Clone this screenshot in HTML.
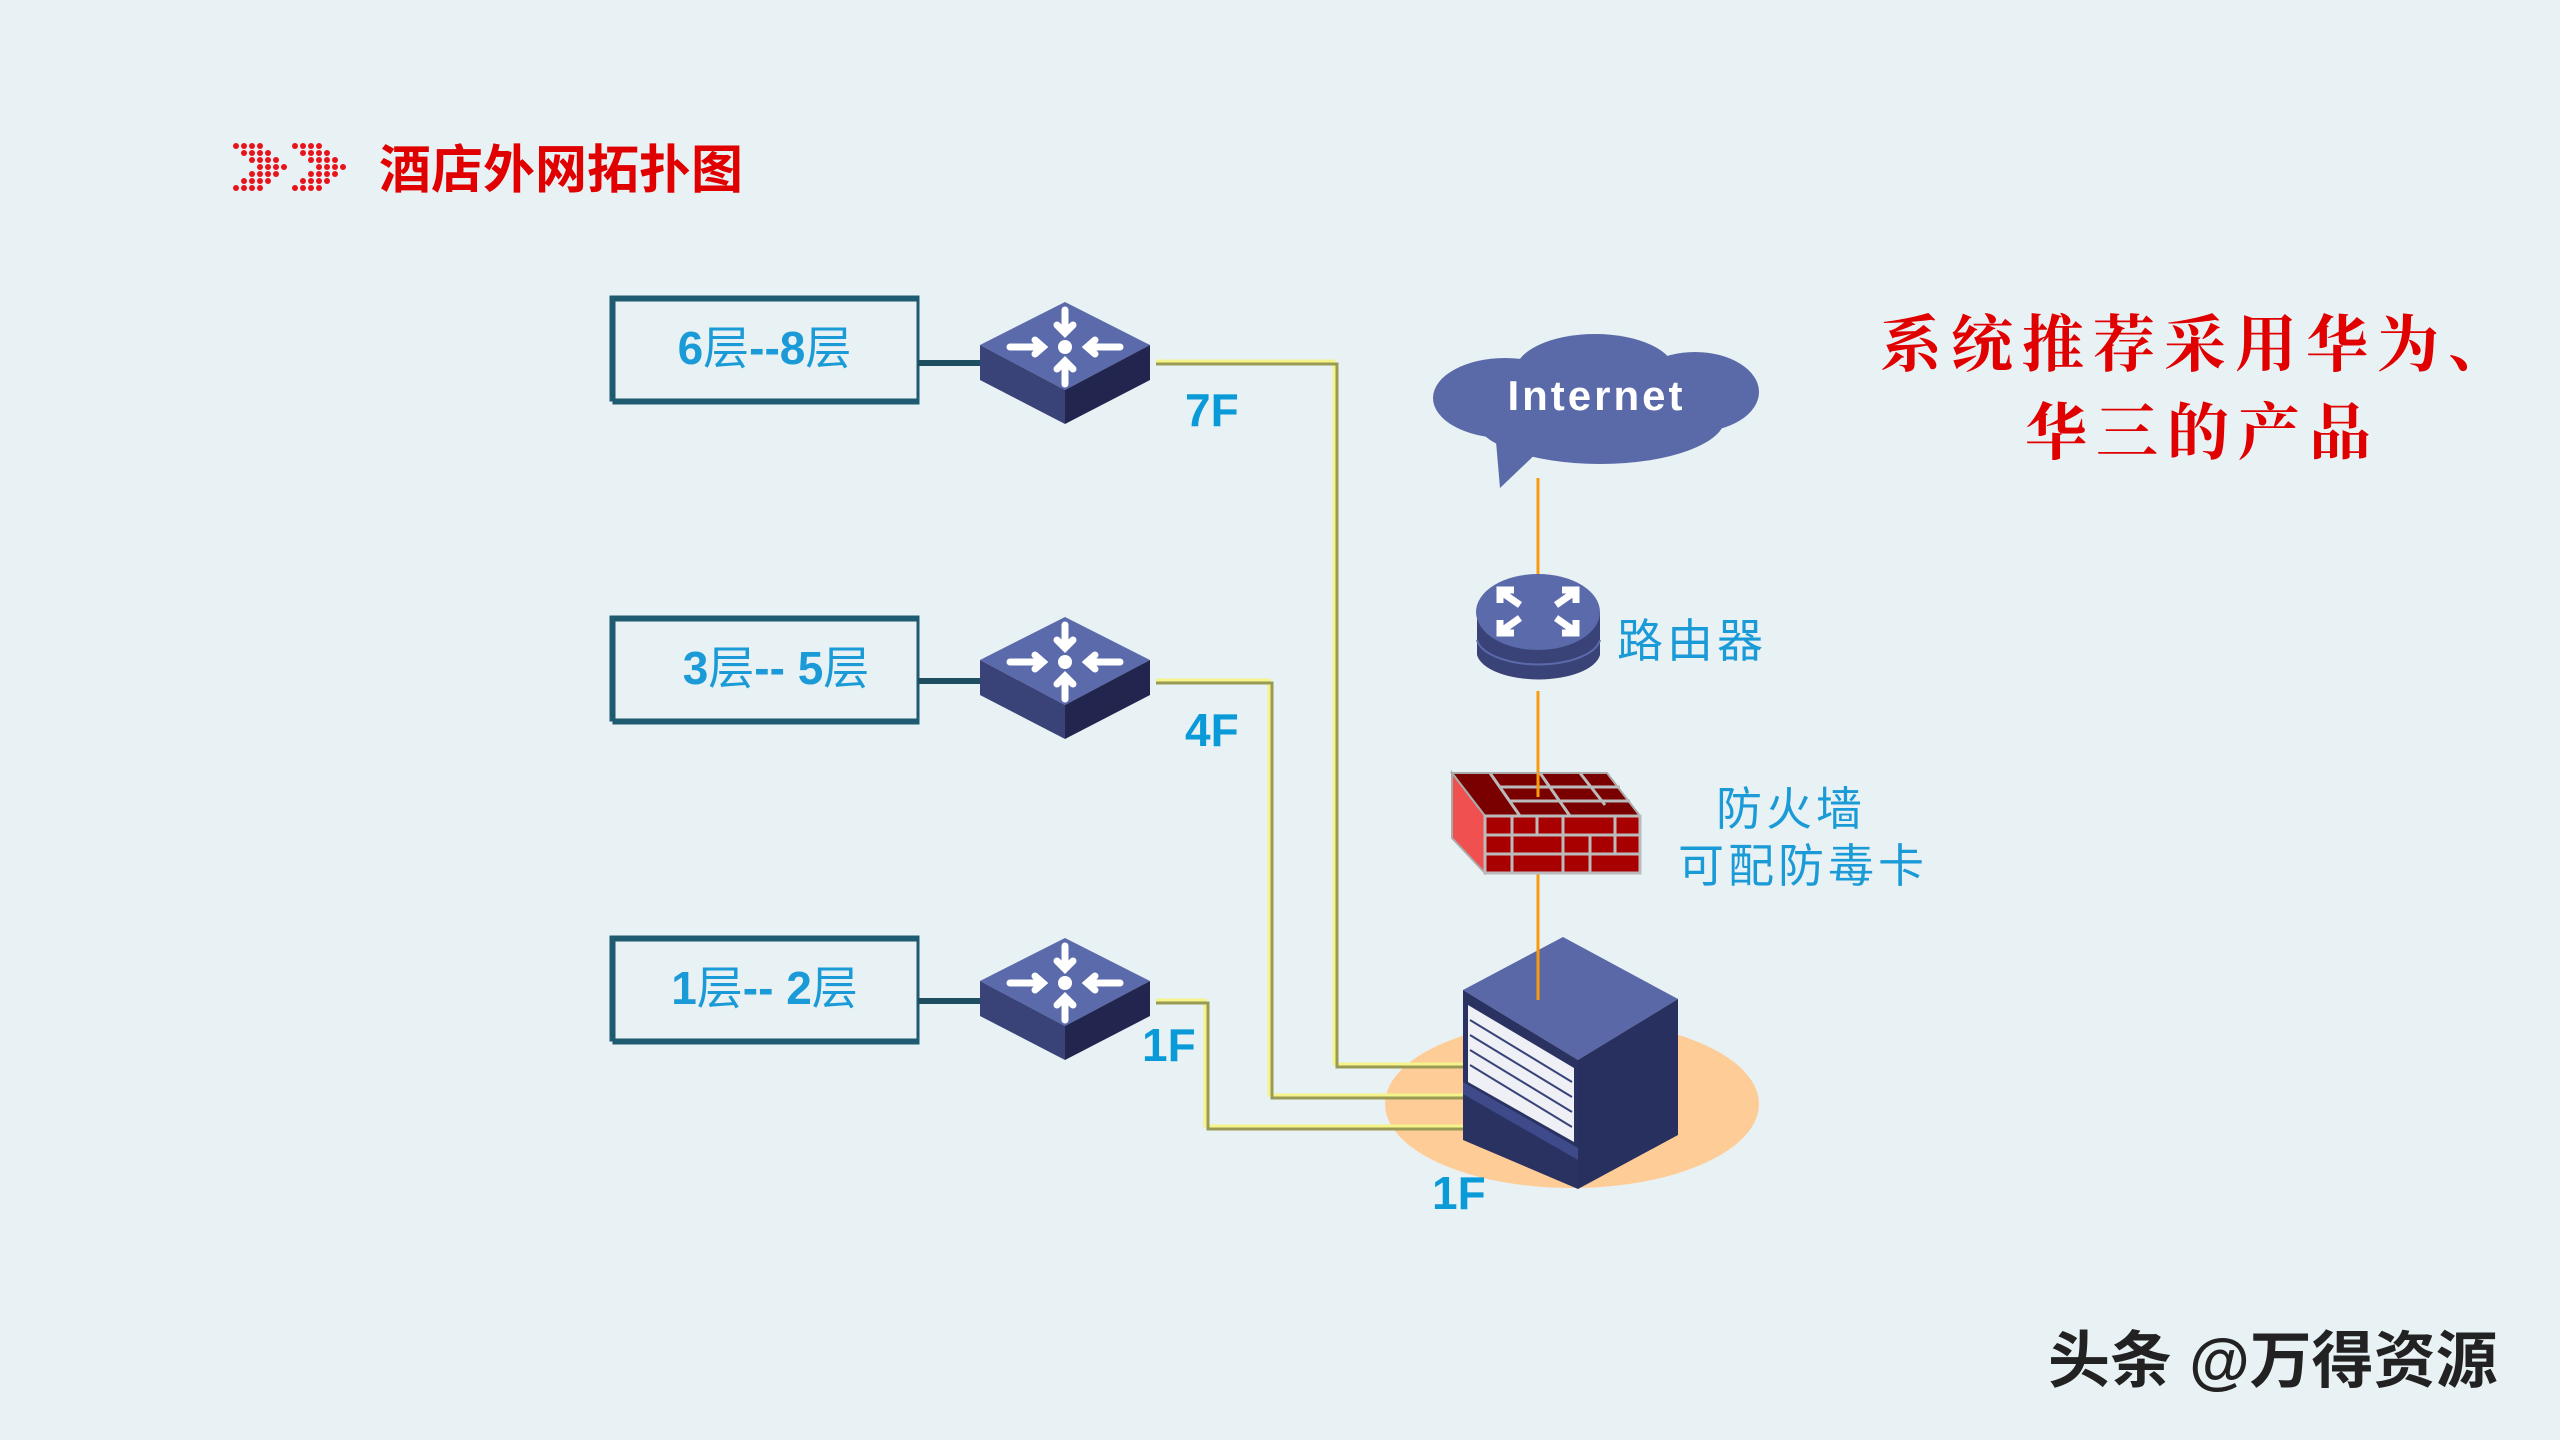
<!DOCTYPE html>
<html><head><meta charset="utf-8"><style>
html,body{margin:0;padding:0;}
body{width:2560px;height:1440px;background:#e8f1f4;position:relative;overflow:hidden;font-family:"Liberation Sans","Noto Sans CJK SC",sans-serif;}
.t{position:absolute;white-space:nowrap;}
</style></head><body>
<svg width="2560" height="1440" style="position:absolute;left:0;top:0">
<defs>
<g id="sw">
<polygon points="85,0 170,43 85,88 0,43" fill="#5a6aaa"/>
<polygon points="0,43 85,88 85,122 0,78" fill="#3a4378"/>
<polygon points="170,43 85,88 85,122 170,78" fill="#22264f"/>
<g stroke="#fff" stroke-width="7" fill="none" stroke-linecap="round">
<line x1="85" y1="8" x2="85" y2="30"/><polyline points="77,23 85,31 93,23"/>
<line x1="85" y1="82" x2="85" y2="60"/><polyline points="77,67 85,59 93,67"/>
<line x1="30" y1="45" x2="62" y2="45"/><polyline points="55,38 63,45 55,52"/>
<line x1="140" y1="45" x2="108" y2="45"/><polyline points="115,38 107,45 115,52"/>
</g>
<circle cx="85" cy="45" r="7" fill="#fff"/>
</g>
<g id="chev" fill="#e8141c">
<circle cx="0" cy="0" r="3"/><circle cx="8" cy="0" r="3"/><circle cx="16" cy="0" r="3"/><circle cx="24" cy="0" r="3"/>
<circle cx="8" cy="7" r="3"/><circle cx="16" cy="7" r="3"/><circle cx="24" cy="7" r="3"/><circle cx="32" cy="7" r="3"/>
<circle cx="16" cy="14" r="3"/><circle cx="24" cy="14" r="3"/><circle cx="32" cy="14" r="3"/><circle cx="40" cy="14" r="3"/>
<circle cx="24" cy="21" r="3"/><circle cx="32" cy="21" r="3"/><circle cx="40" cy="21" r="3"/><circle cx="48" cy="21" r="3"/>
<circle cx="16" cy="28" r="3"/><circle cx="24" cy="28" r="3"/><circle cx="32" cy="28" r="3"/><circle cx="40" cy="28" r="3"/>
<circle cx="8" cy="35" r="3"/><circle cx="16" cy="35" r="3"/><circle cx="24" cy="35" r="3"/><circle cx="32" cy="35" r="3"/>
<circle cx="0" cy="42" r="3"/><circle cx="8" cy="42" r="3"/><circle cx="16" cy="42" r="3"/><circle cx="24" cy="42" r="3"/>
</g>
</defs>
<use href="#chev" x="236" y="146"/>
<use href="#chev" x="295" y="146"/>
<!-- boxes -->
<g fill="none" stroke="#1e5a70" stroke-width="3">
<rect x="611" y="297" width="307" height="103"/><rect x="614" y="300" width="304" height="103"/>
<rect x="611" y="617" width="307" height="103"/><rect x="614" y="620" width="304" height="103"/>
<rect x="611" y="937" width="307" height="103"/><rect x="614" y="940" width="304" height="103"/>
</g>
<g stroke="#1e4f60" stroke-width="6">
<line x1="918" y1="363" x2="982" y2="363"/>
<line x1="918" y1="681" x2="982" y2="681"/>
<line x1="918" y1="1001" x2="982" y2="1001"/>
</g>
<ellipse cx="1572" cy="1104" rx="187" ry="84" fill="#fecd97"/>
<g fill="none" stroke-width="3">
<path d="M1156 361 H1334 V1064 H1465" stroke="#f4f48a"/>
<path d="M1156 364 H1337 V1067 H1465" stroke="#9a9a55"/>
<path d="M1156 680 H1269 V1095 H1478" stroke="#f4f48a"/>
<path d="M1156 683 H1272 V1098 H1482" stroke="#9a9a55"/>
<path d="M1156 1000 H1205 V1126 H1525" stroke="#f4f48a"/>
<path d="M1156 1003 H1208 V1129 H1528" stroke="#9a9a55"/>
</g>
<use href="#sw" x="980" y="302"/>
<use href="#sw" x="980" y="617"/>
<use href="#sw" x="980" y="938"/>
<!-- chassis -->
<polygon points="1463,990 1563,937 1678,999 1578,1060" fill="#5a68a8"/>
<polygon points="1678,999 1578,1060 1578,1189 1678,1135" fill="#283060"/>
<polygon points="1463,990 1578,1060 1578,1189 1463,1140" fill="#2a3262"/>
<polygon points="1468,1005 1574,1068 1574,1142 1468,1082" fill="#eef0f6"/>
<g stroke="#3a4378" stroke-width="2">
<line x1="1470" y1="1020" x2="1572" y2="1082"/><line x1="1470" y1="1035" x2="1572" y2="1097"/>
<line x1="1470" y1="1050" x2="1572" y2="1112"/><line x1="1470" y1="1065" x2="1572" y2="1127"/>
</g>
<polygon points="1463,1082 1578,1148 1578,1160 1463,1094" fill="#3e4a8a"/>
<!-- cloud -->
<g fill="#5a6aa8">
<ellipse cx="1505" cy="398" rx="72" ry="40"/>
<ellipse cx="1595" cy="372" rx="80" ry="38"/>
<ellipse cx="1695" cy="392" rx="64" ry="40"/>
<ellipse cx="1600" cy="418" rx="125" ry="46"/>
<polygon points="1495,430 1545,445 1500,488"/>
</g>
<g stroke="#f79a0c" stroke-width="3">
<line x1="1538" y1="478" x2="1538" y2="585"/>
<line x1="1538" y1="691" x2="1538" y2="797"/>
<line x1="1538" y1="870" x2="1538" y2="1000"/>
</g>
<!-- router -->
<path d="M1477 612 V655 A62 28 0 0 0 1600 655 V612 Z" fill="#3a4378"/>
<path d="M1477 640 A62 28 0 0 0 1600 640" fill="none" stroke="#5a6aaa" stroke-width="2"/>
<ellipse cx="1538" cy="612" rx="62" ry="38" fill="#5a6aaa"/>
<g stroke="#fff" stroke-width="7" fill="none">
<polyline points="1500,591 1520,605"/><polyline points="1500,603 1500,590 1514,590"/>
<polyline points="1576,591 1556,605"/><polyline points="1562,590 1576,590 1576,603"/>
<polyline points="1500,632 1520,618"/><polyline points="1500,620 1500,633 1514,633"/>
<polyline points="1576,632 1556,618"/><polyline points="1562,633 1576,633 1576,620"/>
</g>
<!-- firewall -->
<polygon points="1452,773 1607,773 1640,816 1485,816" fill="#7a0000" stroke="#aaa" stroke-width="2"/>
<polygon points="1452,773 1485,816 1485,873 1452,838" fill="#f05050" stroke="#aaa" stroke-width="2"/>
<rect x="1485" y="816" width="155" height="57" fill="#a80000" stroke="#bbb" stroke-width="3"/>
<g stroke="#bbb" stroke-width="3">
<line x1="1485" y1="835" x2="1640" y2="835"/><line x1="1485" y1="854" x2="1640" y2="854"/>
<line x1="1512" y1="816" x2="1512" y2="873"/><line x1="1537" y1="816" x2="1537" y2="835"/>
<line x1="1563" y1="816" x2="1563" y2="873"/><line x1="1590" y1="835" x2="1590" y2="873"/>
<line x1="1615" y1="816" x2="1615" y2="854"/>
<line x1="1500" y1="787" x2="1620" y2="787"/><line x1="1510" y1="801" x2="1630" y2="801"/>
<line x1="1490" y1="773" x2="1520" y2="816"/><line x1="1540" y1="773" x2="1570" y2="816"/><line x1="1580" y1="773" x2="1605" y2="805"/>
</g>
<line x1="1538" y1="773" x2="1538" y2="797" stroke="#f79a0c" stroke-width="3"/>
</svg>
<div class="t" style="left:379px;top:136px;font-size:52px;font-weight:bold;color:#e00000;font-family:'Noto Sans CJK SC',sans-serif;line-height:60px;">酒店外网拓扑图</div>
<div class="t" style="left:611px;top:318px;width:307px;text-align:center;font-size:46px;color:#1a9ad6;line-height:60px;"><b>6</b>层<b>--8</b>层</div>
<div class="t" style="left:611px;top:638px;width:330px;text-align:center;font-size:46px;color:#1a9ad6;line-height:60px;"><b>3</b>层<b>-- 5</b>层</div>
<div class="t" style="left:611px;top:958px;width:307px;text-align:center;font-size:46px;color:#1a9ad6;line-height:60px;"><b>1</b>层<b>-- 2</b>层</div>
<div class="t" style="left:1185px;top:383px;font-size:46px;font-weight:bold;color:#0a9ad8;">7F</div>
<div class="t" style="left:1185px;top:703px;font-size:46px;font-weight:bold;color:#0a9ad8;">4F</div>
<div class="t" style="left:1142px;top:1018px;font-size:46px;font-weight:bold;color:#0a9ad8;">1F</div>
<div class="t" style="left:1432px;top:1166px;font-size:46px;font-weight:bold;color:#0a9ad8;">1F</div>
<div class="t" style="left:1434px;top:372px;width:325px;text-align:center;font-size:42px;font-weight:bold;color:#fff;letter-spacing:3px;">Internet</div>
<div class="t" style="left:1617px;top:605px;font-size:46px;color:#1a9ad6;letter-spacing:4px;">路由器</div>
<div class="t" style="left:1716px;top:773px;font-size:46px;color:#1a9ad6;letter-spacing:4px;">防火墙</div>
<div class="t" style="left:1678px;top:830px;font-size:46px;color:#1a9ad6;letter-spacing:4px;">可配防毒卡</div>
<div class="t" style="left:1880px;top:300px;font-size:62px;font-weight:bold;color:#e00000;letter-spacing:9px;font-family:'Noto Serif CJK SC',serif;line-height:80px;">系统推荐采用华为、</div>
<div class="t" style="left:2025px;top:388px;font-size:62px;font-weight:bold;color:#e00000;letter-spacing:9px;font-family:'Noto Serif CJK SC',serif;line-height:80px;">华三的产品</div>
<div class="t" style="left:2048px;top:1327px;font-size:62px;font-weight:bold;color:#222;line-height:70px;">头条 @万得资源</div>
</body></html>
